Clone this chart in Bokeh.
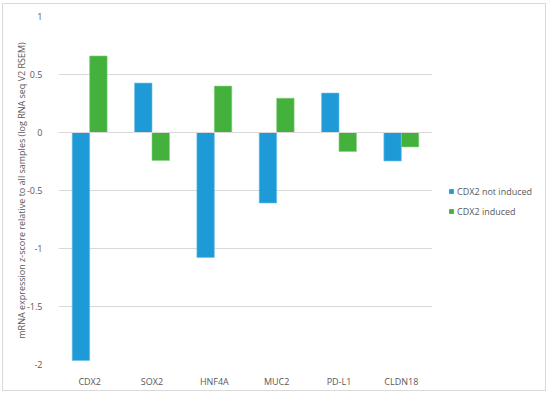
from bokeh.plotting import figure
from bokeh.layouts import row
from bokeh.models import (ColumnDataSource, FactorRange, Range1d, FixedTicker, Span,
                          Legend, LegendItem, NumeralTickFormatter)
from bokeh.transform import dodge
from bokeh.embed import file_html
from bokeh.resources import INLINE

genes = ["CDX2", "SOX2", "HNF4A", "MUC2", "PD-L1", "CLDN18"]
not_induced = [-1.965, 0.426, -1.078, -0.608, 0.34, -0.245]
induced = [0.66, -0.242, 0.40, 0.296, -0.164, -0.124]
series_names = ["CDX2 not induced", "CDX2 induced"]
y_ticks = [-2, -1.5, -1, -0.5, 0, 0.5, 1]

BLUE = "#1e9bd7"
GREEN = "#43b13b"
TEXT = "#595959"
GRID = "#d9d9d9"
FONT = "Open Sans"

src = ColumnDataSource(dict(gene=genes, a=not_induced, b=induced))

# main chart
p = figure(width=429, height=386, x_range=FactorRange(*genes), y_range=Range1d(-2, 1),
           output_backend="svg", toolbar_location=None,
           min_border_left=55, min_border_right=0, min_border_top=12, min_border_bottom=25)
p.outline_line_color = None
p.background_fill_color = "white"
p.border_fill_color = "white"

p.vbar(x=dodge("gene", -0.14, range=p.x_range), top="a", width=0.28, source=src,
       fill_color=BLUE, line_color="#6cc0ea", line_width=0.6)
p.vbar(x=dodge("gene", 0.14, range=p.x_range), top="b", width=0.28, source=src,
       fill_color=GREEN, line_color="#86d07f", line_width=0.6)

p.add_layout(Span(location=0, dimension="width", line_color=GRID, line_width=1))

p.xgrid.grid_line_color = None
p.ygrid.grid_line_color = GRID
p.ygrid.grid_line_width = 1

p.yaxis.ticker = FixedTicker(ticks=y_ticks)
p.yaxis.formatter = NumeralTickFormatter(format="0.[0]")
p.yaxis.axis_line_color = None
p.yaxis.major_tick_line_color = None
p.yaxis.minor_tick_line_color = None
p.yaxis.major_label_standoff = 10
p.yaxis.major_label_text_font = FONT
p.yaxis.major_label_text_font_size = "9px"
p.yaxis.major_label_text_color = TEXT
p.yaxis.axis_label = "mRNA expression z-score relative to all samples (log RNA seq V2 RSEM)"
p.yaxis.axis_label_text_font = FONT
p.yaxis.axis_label_text_font_size = "9px"
p.yaxis.axis_label_text_font_style = "normal"
p.yaxis.axis_label_text_color = TEXT
p.yaxis.axis_label_standoff = -4

p.xaxis.axis_line_color = None
p.xaxis.major_tick_line_color = None
p.xaxis.major_label_standoff = 4
p.xaxis.major_label_text_font = FONT
p.xaxis.major_label_text_font_size = "9px"
p.xaxis.major_label_text_color = TEXT

# legend panel
p2 = figure(width=113, height=386, x_range=FactorRange(*genes), y_range=Range1d(-2, 1),
            output_backend="svg", toolbar_location=None,
            x_axis_type=None, y_axis_type=None, min_border=0)
p2.outline_line_color = None
p2.xgrid.visible = False
p2.ygrid.visible = False
l1 = p2.vbar(x="gene", top="a", width=0.28, source=src, fill_color=BLUE, line_color=None,
             visible=False)
l2 = p2.vbar(x="gene", top="b", width=0.28, source=src, fill_color=GREEN, line_color=None,
             visible=False)

legend = Legend(items=[LegendItem(label=series_names[0], renderers=[l1]),
                       LegendItem(label=series_names[1], renderers=[l2])],
                location=(16, 146), orientation="vertical",
                glyph_width=6, glyph_height=6, label_height=14, label_standoff=3,
                spacing=6, padding=0, margin=0,
                border_line_color=None, background_fill_alpha=0,
                label_text_font=FONT, label_text_font_size="9px", label_text_color=TEXT)
p2.add_layout(legend, "center")

lay = row(p, p2, spacing=0,
          styles={"border": "1px solid #d9d9d9", "margin-left": "2px", "margin-top": "3px"})

open("out.html", "w").write(file_html(lay, INLINE))
